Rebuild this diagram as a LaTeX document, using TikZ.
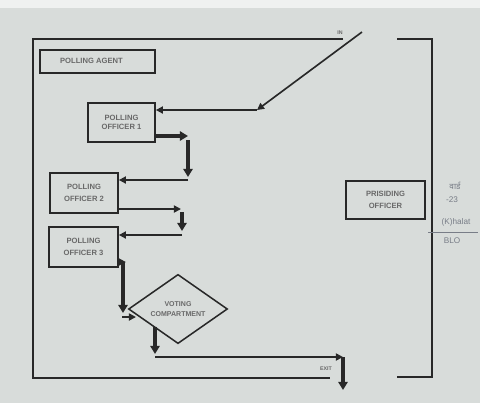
\documentclass[tikz,border=0pt]{standalone}
\usepackage{fontspec}
\setmainfont{Liberation Sans}
\newfontfamily\devfont[Script=Devanagari]{Noto Sans}
\usetikzlibrary{arrows.meta,shapes.geometric,calc}
\definecolor{paper}{RGB}{216,220,218}
\definecolor{ink}{RGB}{40,40,40}
\definecolor{pen}{RGB}{120,125,135}

\begin{document}
\begin{tikzpicture}[x=0.3mm,y=-0.3mm,
	box/.style={draw=ink,line width=1.5pt,inner sep=0pt},
	lbl/.style={font=\fontsize{6.5}{10}\selectfont\bfseries,text=ink!70,align=center},
	tiny/.style={font=\fontsize{4.5}{5}\selectfont\bfseries,text=ink!70},
	flow/.style={draw=ink,line width=1.4pt,-{Triangle[length=6pt,width=6pt]}},
	bigflow/.style={draw=ink,line width=2.6pt,-{Triangle[length=7pt,width=8pt]}},
	hand/.style={text=pen,font=\fontsize{7}{8}\selectfont}]
	\fill[paper] (0,0) rectangle (480,403);
	\fill[paper!40] (0,0) rectangle (480,8);
	\useasboundingbox (0,0) rectangle (480,403);
	% hall walls
	\draw[ink,line width=2.3pt] (343,39) -- (33,39) -- (33,378) -- (330,378);
	\draw[ink,line width=2.3pt] (397,39) -- (432,39) -- (432,377) -- (397,377);
	\node[tiny] (inlbl) at (340,33) {IN};
	\node[tiny] (exitlbl) at (326,369) {EXIT};
	%
	\node[box,minimum width=34.5mm,minimum height=6.9mm] (agent) at (97.5,61.5) {};
	\node[lbl,anchor=west] (agenttxt) at (56,61) {POLLING AGENT};
	\node[box,minimum width=20.1mm,minimum height=11.7mm,lbl,font=\fontsize{6.5}{8}\selectfont\bfseries] (po1) at (121.5,122.5) {POLLING\\OFFICER 1};
	\node[box,minimum width=20.4mm,minimum height=12mm,lbl] (po2) at (84,193) {POLLING\\OFFICER 2};
	\node[box,minimum width=20.7mm,minimum height=12mm,lbl] (po3) at (83.5,247) {POLLING\\OFFICER 3};
	\node[draw=ink,line width=1.3pt,diamond,minimum width=29.7mm,minimum height=19.8mm,inner sep=0pt,lbl,font=\fontsize{6}{8}\selectfont\bfseries] (vote) at (178,309) {VOTING\\COMPARTMENT};
	\node[box,minimum width=23.7mm,minimum height=11.4mm,lbl] (pro) at (385.5,200) {PRISIDING\\OFFICER};
	%
	\coordinate (in) at (362,32);
	\coordinate (turn) at (257,110);
	\draw[flow] (in) -- (turn);
	\draw[flow] (turn) -- (po1.east |- turn);
	%
	\coordinate (a1) at (188,136);
	\draw[bigflow] (po1.east |- a1) -- (a1);
	\draw[bigflow] (188,140) -- (188,177);
	\draw[flow] (188,180) -- (po2.east |- 0,180);
	\coordinate (a2) at (181,209);
	\draw[flow] (po2.east |- a2) -- (a2);
	\draw[bigflow] (182,212) -- (182,231);
	\draw[flow] (182,235) -- (po3.east |- 0,235);
	%
	\coordinate (a3) at (123,262);
	\draw[flow] (po3.east |- a3) -- ++(7,0);
	\draw[bigflow] (a3) -- (123,313);
	\draw[flow] (122,317) -- (136,317);
	\coordinate (out) at (155,354);
	\draw[bigflow] (vote.south west -| out) -- (out);
	\coordinate (exitturn) at (343,357);
	\coordinate (exit) at (343,390);
	\draw[flow] (155,357) -- (exitturn);
	\draw[bigflow] (exitturn) -- (exit);
	% pen notes
	\node[hand] (note1) at (455,186) {\devfont वार्ड};
	\node[hand] (note2) at (452,200) {-23};
	\node[hand] (note3) at (456,222) {(K)halat};
	\draw[pen,line width=0.5pt] (428,232) -- (478,232);
	\node[hand] (note4) at (452,241) {BLO};
\end{tikzpicture}
\end{document}
